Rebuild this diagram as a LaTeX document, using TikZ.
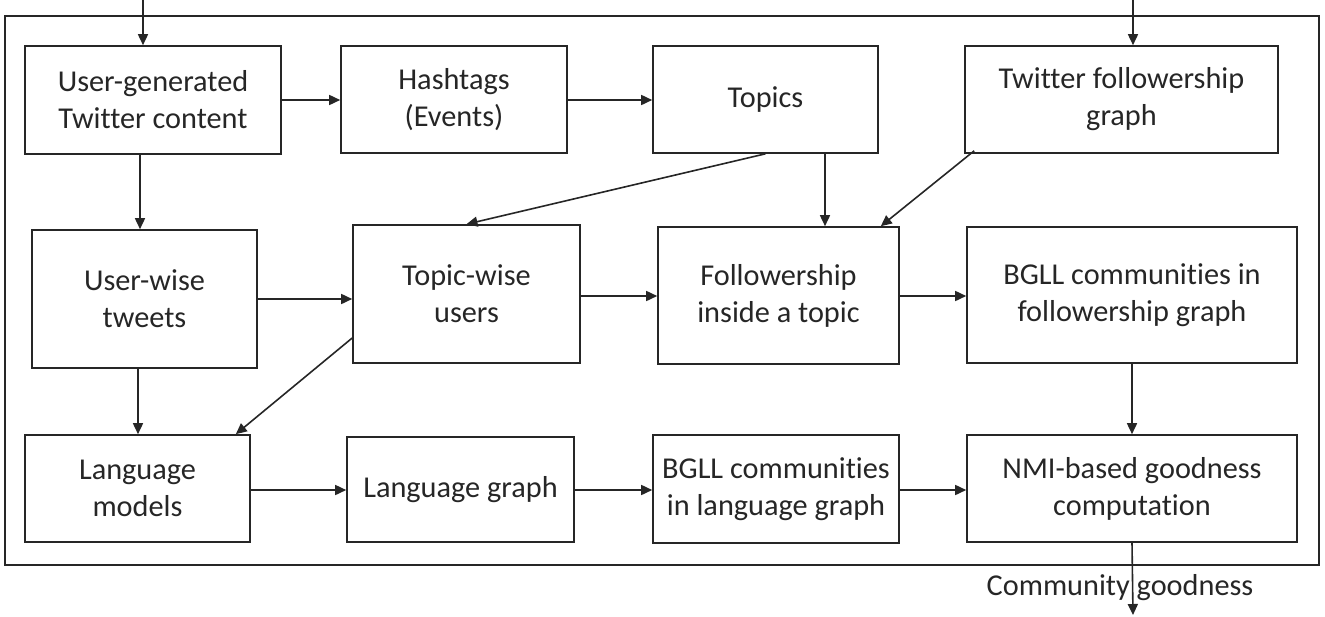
\documentclass[tikz,border=0pt]{standalone}
\usepackage{fontspec}
\setmainfont{Carlito}[Ligatures={NoCommon}]
\usetikzlibrary{arrows.meta,calc}
\begin{document}
\begin{tikzpicture}[x=1pt,y=-1pt,
  txt/.style={font=\fontsize{30.3}{37}\selectfont,text=black!85},
  box/.style={txt,draw=black!85,line width=1.6pt,rectangle,inner sep=0pt,align=center},
  conn/.style={draw=black!85,line width=1.6pt,-{Triangle[length=11pt,width=10pt]}},
  frame/.style={draw=black!85,line width=1.6pt}]
\useasboundingbox (0,0) rectangle (1325,616);
\draw[frame] (5,16) rectangle (1319,565);
% row 1
\node[box,minimum width=256pt,minimum height=108pt] (ugc) at (153,100) {User-generated\\Twitter content};
\node[box,minimum width=226pt,minimum height=107pt] (hash) at (454,99.5) {Hashtags\\(Events)};
\node[box,minimum width=225pt,minimum height=107pt] (topics) at (765.5,99.5) {Topics};
\node[box,minimum width=313pt,minimum height=107pt] (tfg) at (1121.5,99.5) {Twitter followership\\graph};
% row 2
\node[box,minimum width=225pt,minimum height=138pt] (uwt) at (144.5,299) {User-wise\\tweets};
\node[box,minimum width=227pt,minimum height=138pt] (twu) at (466.5,294) {Topic-wise\\users};
\node[box,minimum width=241pt,minimum height=137pt] (fit) at (778.5,295.5) {Followership\\inside a topic};
\node[box,minimum width=330pt,minimum height=136pt] (bglf) at (1132,295) {BGLL communities in\\followership graph};
% row 3
\node[box,minimum width=225pt,minimum height=107pt] (lm) at (137.5,488.5) {Language\\models};
\node[box,minimum width=227pt,minimum height=105pt] (lg) at (460.5,489.5) {Language graph};
\node[box,minimum width=246pt,minimum height=108pt] (bgll) at (776,489) {BGLL communities\\in language graph};
\node[box,minimum width=330pt,minimum height=107pt] (nmi) at (1132,488.5) {NMI-based goodness\\computation};
% free ends
\coordinate (in1) at (143,0);
\coordinate (in2) at (1133,0);
\coordinate (out) at (1133,615);
\node[txt,inner sep=0pt] (lbl) at (1120,588) {Community goodness};
% connectors
\draw[conn] (in1) -- (in1 |- ugc.north);
\draw[conn] (in2) -- (in2 |- tfg.north);
\draw[conn] (ugc.east |- 0,100) -- (hash.west |- 0,100);
\draw[conn] (hash.east |- 0,100) -- (topics.west |- 0,100);
\draw[conn] ([xshift=-13pt]ugc.south) -- ([xshift=-13pt]ugc.south |- uwt.north);
\draw[conn] (topics.south) -- (twu.north);
\draw[conn] ([xshift=59.5pt]topics.south) -- ([xshift=59.5pt]topics.south |- fit.north);
\draw[conn] ([xshift=10pt,yshift=3pt]tfg.south west) -- ([xshift=-19pt]fit.north east);
\draw[conn] (uwt.east |- 0,299) -- (twu.west |- 0,299);
\draw[conn] (twu.east |- 0,296) -- (fit.west |- 0,296);
\draw[conn] (fit.east |- 0,296) -- (bglf.west |- 0,296);
\draw[conn] ([xshift=-6.5pt]uwt.south) -- ([xshift=-6.5pt]uwt.south |- lm.north);
\draw[conn] ([yshift=-44pt]twu.west) -- ([xshift=-15pt]lm.north east);
\draw[conn] (lm.east |- 0,490) -- (lg.west |- 0,490);
\draw[conn] (lg.east |- 0,490) -- (bgll.west |- 0,490);
\draw[conn] (bgll.east |- 0,490) -- (nmi.west |- 0,490);
\draw[conn] (bglf.south) -- (nmi.north);
\draw[conn] (nmi.south) -- (out);
\end{tikzpicture}
\end{document}
